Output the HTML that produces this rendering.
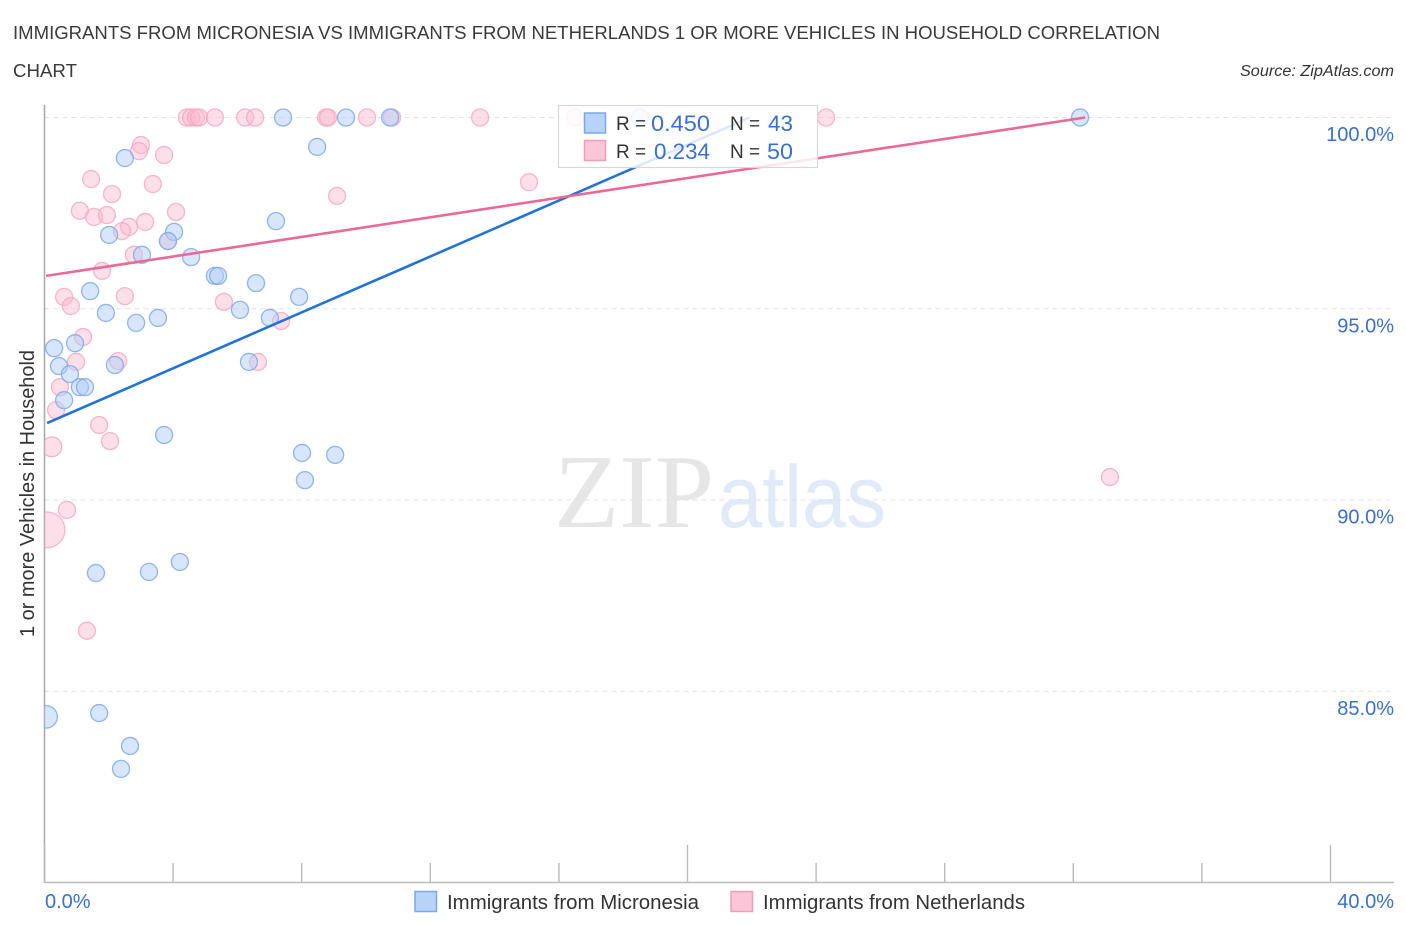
<!DOCTYPE html>
<html lang="en">
<head>
<meta charset="utf-8">
<title>Immigrants from Micronesia vs Immigrants from Netherlands Correlation Chart</title>
<style>
html,body{margin:0;padding:0;background:#fff;}
svg{display:block;font-family:"Liberation Sans",sans-serif;}
</style>
</head>
<body>
<svg id="chart" width="1406" height="930" viewBox="0 0 1406 930" xmlns="http://www.w3.org/2000/svg">
  <defs><clipPath id="plot-clip"><rect x="44.5" y="90" width="1350" height="793"/></clipPath></defs>
  <text x="13" y="39" font-size="18.5" fill="#3a3a3a" textLength="1147" lengthAdjust="spacingAndGlyphs">IMMIGRANTS FROM MICRONESIA VS IMMIGRANTS FROM NETHERLANDS 1 OR MORE VEHICLES IN HOUSEHOLD CORRELATION</text>
  <text x="13" y="77" font-size="18.5" fill="#3a3a3a" textLength="64" lengthAdjust="spacingAndGlyphs">CHART</text>
  <text x="1394" y="76" font-size="15.5" font-style="italic" fill="#333" text-anchor="end" textLength="154" lengthAdjust="spacingAndGlyphs">Source: ZipAtlas.com</text>
  <g id="watermark">
    <text x="554" y="527" font-family="'Liberation Serif',serif" font-size="105" fill="#e6e6e6" textLength="160" lengthAdjust="spacingAndGlyphs">ZIP</text>
    <text x="718" y="527" font-family="'Liberation Sans',sans-serif" font-size="88" fill="#e0eaf8" textLength="168" lengthAdjust="spacingAndGlyphs">atlas</text>
  </g>
  <g id="grid"></g>
  <g id="axes"></g>
  <g id="points" clip-path="url(#plot-clip)"></g>
  <g id="trends"></g>
  <g id="labels"></g>
  <text transform="translate(34,637) rotate(-90)" font-size="20" fill="#333" textLength="287" lengthAdjust="spacingAndGlyphs">1 or more Vehicles in Household</text>

  <g>
    <rect x="558.5" y="105.5" width="259" height="62" fill="#fff" fill-opacity="0.84" stroke="#d8d8d8" stroke-width="1.2"/>
    <rect x="584.5" y="113" width="21" height="20" fill="#b8d3f8" stroke="#7aa8e8" stroke-width="1.5"/>
    <rect x="584.5" y="140.5" width="21" height="20" fill="#fcc5d8" stroke="#eea0bb" stroke-width="1.5"/>
    <text x="616" y="130" font-size="19" fill="#333">R =</text>
    <text x="651" y="131" font-size="22" fill="#3a70cc" textLength="59" lengthAdjust="spacingAndGlyphs">0.450</text>
    <text x="730" y="130" font-size="19" fill="#333">N =</text>
    <text x="768" y="131" font-size="22" fill="#3a70cc" textLength="25" lengthAdjust="spacingAndGlyphs">43</text>
    <text x="616" y="158" font-size="19" fill="#333">R =</text>
    <text x="654" y="159" font-size="22" fill="#3a70cc" textLength="56" lengthAdjust="spacingAndGlyphs">0.234</text>
    <text x="730" y="158" font-size="19" fill="#333">N =</text>
    <text x="767" y="159" font-size="22" fill="#3a70cc" textLength="26" lengthAdjust="spacingAndGlyphs">50</text>
  </g>

  <g>
    <rect x="415" y="891.5" width="21.5" height="20" fill="#b8d3f8" stroke="#7aa8e8" stroke-width="1.5"/>
    <text x="447" y="909" font-size="20" fill="#333" textLength="252" lengthAdjust="spacingAndGlyphs">Immigrants from Micronesia</text>
    <rect x="731" y="891.5" width="21.5" height="20" fill="#fcc5d8" stroke="#eea0bb" stroke-width="1.5"/>
    <text x="763" y="909" font-size="20" fill="#333" textLength="262" lengthAdjust="spacingAndGlyphs">Immigrants from Netherlands</text>
  </g>
</svg>
<script>
const micronesiaX = [7.42,9.38,10.75,18.52,32.21,8.48,2.50,7.20,2.01,4.03,3.84,3.03,4.56,5.30,5.40,6.58,7.92,1.42,6.08,1.91,2.85,3.53,7.01,0.95,0.30,0.45,2.19,6.36,0.79,1.10,1.26,0.61,3.72,8.01,9.04,8.10,1.60,3.25,4.21,0.05,1.70,2.66,2.38];
const micronesiaY = [100,100,100,100,100,99.23,98.94,97.29,96.93,97.01,96.77,96.41,96.35,95.86,95.86,95.67,95.31,95.46,94.97,94.89,94.63,94.76,94.76,94.10,93.97,93.50,93.53,93.61,93.29,92.95,92.95,92.61,91.70,91.23,91.18,90.52,88.09,88.12,88.38,84.33,84.43,83.57,82.97];
const micronesiaPopulation = [1,1,1,1,1,1,1,1,1,1,1,1,1,1,1,1,1,1,1,1,1,1,1,1,1,1,1,1,1,1,1,1,1,1,1,1,1,1,1,1.75,1,1,1];

const netherlandsX = [4.43,4.56,4.71,4.81,5.30,6.24,6.55,8.76,8.82,10.03,10.81,13.55,16.50,24.31,3.00,2.94,3.72,1.45,3.37,2.10,9.10,1.10,1.54,1.94,4.09,2.63,2.41,3.13,3.84,2.78,1.79,0.61,2.50,0.82,5.58,7.36,1.20,2.29,6.64,0.98,0.48,0.36,1.70,2.04,0.23,0.70,0.08,1.32,15.07,33.14];
const netherlandsY = [100,100,100,100,100,100,100,100,100,100,100,100,100,100,99.28,99.12,99.02,98.39,98.26,98.00,97.95,97.56,97.40,97.45,97.53,97.14,97.03,97.27,96.77,96.41,95.99,95.31,95.33,95.07,95.18,94.68,94.26,93.63,93.61,93.61,92.95,92.35,91.96,91.54,91.39,89.74,89.22,86.58,98.31,90.60];
const netherlandsPopulation = [1,1,1,1,1,1,1,1,1,1,1,1,1,1,1,1,1,1,1,1,1,1,1,1,1,1,1,1,1,1,1,1,1,1,1,1,1,1,1,1,1,1,1,1,1.35,1,4.4,1,1,1];

const micronesiaTrendX = [0.08,21.94];
const micronesiaTrendY = [92.01,100];
const netherlandsTrendX = [0.05,32.37];
const netherlandsTrendY = [95.86,100];

const yTickValues = [100,95,90,85];
const yTickLabels = ["100.0%","95.0%","90.0%","85.0%"];
const xTickValues = [0,4,8,12,16,20,24,28,32,36,40];
const xEdgeLabels = ["0.0%","40.0%"];

function xScale(v){ return 44.5 + v * 32.15; }
function yScale(v){ return 117.5 + (100 - v) * 38.25; }

const NS = "http://www.w3.org/2000/svg";
function make(tag, parent, attrs){
  const el = document.createElementNS(NS, tag);
  for (const k in attrs) el.setAttribute(k, attrs[k]);
  parent.appendChild(el);
  return el;
}

const gridG = document.getElementById("grid");
const axesG = document.getElementById("axes");
const pointsG = document.getElementById("points");
const trendsG = document.getElementById("trends");
const labelsG = document.getElementById("labels");

yTickValues.forEach(function(v){
  const line = make("line", gridG, {x1:44.5, x2:1394, y1:yScale(v), y2:yScale(v), stroke:"#e2e2e2", "stroke-width":1, "stroke-dasharray":"5 4"});
  
  
});

const yAxis = make("line", axesG, {x1:44.5, x2:44.5, y1:105, y2:883, stroke:"#aaa", "stroke-width":1.6});


const xAxis = make("line", axesG, {x1:44, x2:1394, y1:882.5, y2:882.5, stroke:"#bbb", "stroke-width":1.6});



xTickValues.forEach(function(v){
  const major = v % 20 === 0;
  const tick = make("line", axesG, {x1:xScale(v), x2:xScale(v), y1:major ? 845 : 863, y2:882.5, stroke:"#bbb", "stroke-width":1.4});
  
  
});

yTickValues.forEach(function(v, i){
  const t = make("text", labelsG, {x:1394, y:yScale(v) + 23.5, "font-size":20, fill:"#3a70cc", "text-anchor":"end"});
  t.textContent = yTickLabels[i];
  
  
});

const xFirst = make("text", labelsG, {x:45, y:908, "font-size":20, fill:"#3a70cc"});
xFirst.textContent = xEdgeLabels[0];


const xLast = make("text", labelsG, {x:1394, y:908, "font-size":20, fill:"#3a70cc", "text-anchor":"end"});
xLast.textContent = xEdgeLabels[1];



function radius(pop){ return 8.5 * Math.sqrt(pop); }

netherlandsX.forEach(function(x, i){
  const c = make("circle", pointsG, {cx:xScale(x), cy:yScale(netherlandsY[i]), r:radius(netherlandsPopulation[i]), fill:"#fbb9ce", "fill-opacity":0.45, stroke:"#f2a6c0", "stroke-opacity":0.8, "stroke-width":1.3});
  
  
});
micronesiaX.forEach(function(x, i){
  const c = make("circle", pointsG, {cx:xScale(x), cy:yScale(micronesiaY[i]), r:radius(micronesiaPopulation[i]), fill:"#b0cdf6", "fill-opacity":0.5, stroke:"#7fa9e8", "stroke-opacity":0.85, "stroke-width":1.3});
  
  
});

const blueTrend = make("line", trendsG, {x1:xScale(micronesiaTrendX[0]), y1:yScale(micronesiaTrendY[0]), x2:xScale(micronesiaTrendX[1]), y2:yScale(micronesiaTrendY[1]), stroke:"#2272d8", "stroke-width":2.6});


const pinkTrend = make("line", trendsG, {x1:xScale(netherlandsTrendX[0]), y1:yScale(netherlandsTrendY[0]), x2:xScale(netherlandsTrendX[1]), y2:yScale(netherlandsTrendY[1]), stroke:"#e96a97", "stroke-width":2.6});


</script>
</body>
</html>
